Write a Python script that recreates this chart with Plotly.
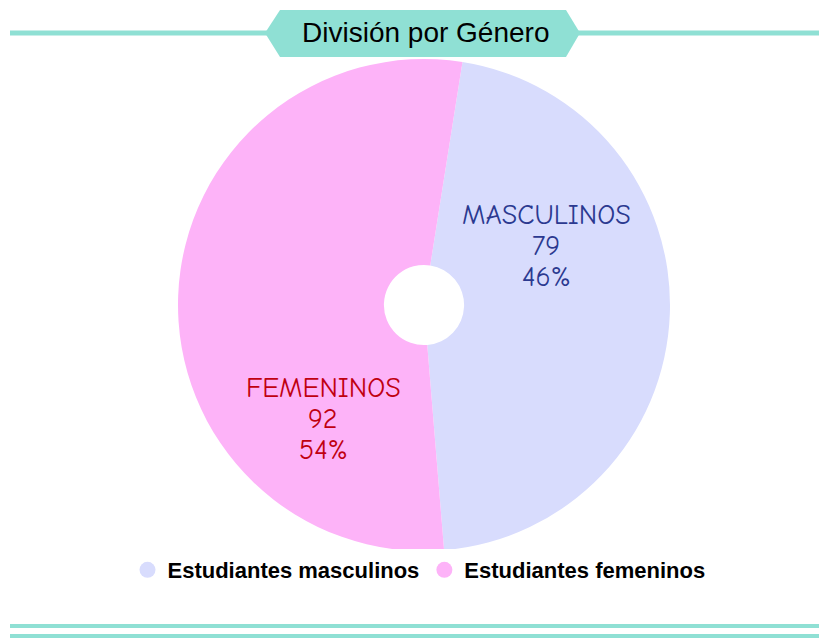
import plotly.graph_objects as go

# ---- data ----
legend_names = ["Estudiantes masculinos", "Estudiantes femeninos"]
slice_labels = ["MASCULINOS", "FEMENINOS"]
values = [79, 92]
slice_colors = ["#d8dcfd", "#fdb3f8"]
text_colors = ["#2b3990", "#c00010"]
title_text = "División por Género"

# page is offset by the browser's 8px body margin
OFF = 8
W, H = 827 - OFF, 638 - OFF
def px(x):
    return (x - OFF) / W
def py(y):
    return 1 - (y - OFF) / H

teal = "#8fe0d4"
total = sum(values)

fig = go.Figure()
fig.add_trace(go.Pie(
    labels=legend_names, values=values, sort=False, direction="clockwise",
    rotation=9, hole=0.163, marker=dict(colors=slice_colors, line=dict(width=0)),
    textinfo="none", hoverinfo="label+value+percent", showlegend=False,
    domain=dict(x=[px(178), px(670)], y=[py(551), py(59)]),
))

# legend entries with circle symbols
for name, col in zip(legend_names, slice_colors):
    fig.add_trace(go.Scatter(x=[None], y=[None], mode="markers", name=name,
                             marker=dict(color=col, size=16, symbol="circle")))

# slice labels (one annotation per line for tight line spacing)
label_pos = [(546, 215), (323, 388)]
LINE = 31
annotations = []
for lab, v, c, (lx, ly) in zip(slice_labels, values, text_colors, label_pos):
    lines = [lab, str(v), f"{round(100 * v / total)}%"]
    for i, t in enumerate(lines):
        annotations.append(dict(
            x=px(lx), y=py(ly + i * LINE), xref="paper", yref="paper", showarrow=False,
            text=t,
            font=dict(family="Comic Sans MS, Comic Neue, Lato, sans-serif", size=28, color=c),
            align="center", xanchor="center", yanchor="middle",
        ))
annotations.append(dict(
    x=px(425), y=py(33), xref="paper", yref="paper", showarrow=False,
    text=title_text, font=dict(family="Liberation Sans, Arial", size=28, color="#000"),
    xanchor="center", yanchor="middle",
))

hexagon = (f"M {px(265)} {py(33)} L {px(280)} {py(10)} L {px(566)} {py(10)} "
           f"L {px(580)} {py(33)} L {px(566)} {py(57)} L {px(280)} {py(57)} Z")
shapes = [
    dict(type="line", xref="paper", yref="paper", x0=px(10), x1=1, y0=py(33), y1=py(33),
         line=dict(color=teal, width=5), layer="below"),
    dict(type="path", xref="paper", yref="paper", path=hexagon, fillcolor=teal,
         line=dict(width=0), layer="below"),
    dict(type="line", xref="paper", yref="paper", x0=px(10), x1=1, y0=py(626), y1=py(626),
         line=dict(color=teal, width=4)),
    dict(type="line", xref="paper", yref="paper", x0=px(10), x1=1, y0=py(636), y1=py(636),
         line=dict(color=teal, width=4)),
]

fig.update_layout(
    width=W, height=H, margin=dict(l=0, r=0, t=0, b=0),
    paper_bgcolor="white", plot_bgcolor="white",
    xaxis=dict(visible=False), yaxis=dict(visible=False),
    shapes=shapes, annotations=annotations,
    legend=dict(orientation="h", x=px(419), xanchor="center", y=py(570), yanchor="middle",
                font=dict(family="Liberation Sans, Arial", size=22, color="#000", weight="bold"),
                itemwidth=30, tracegroupgap=0),
)

fig.write_html("out.html")
